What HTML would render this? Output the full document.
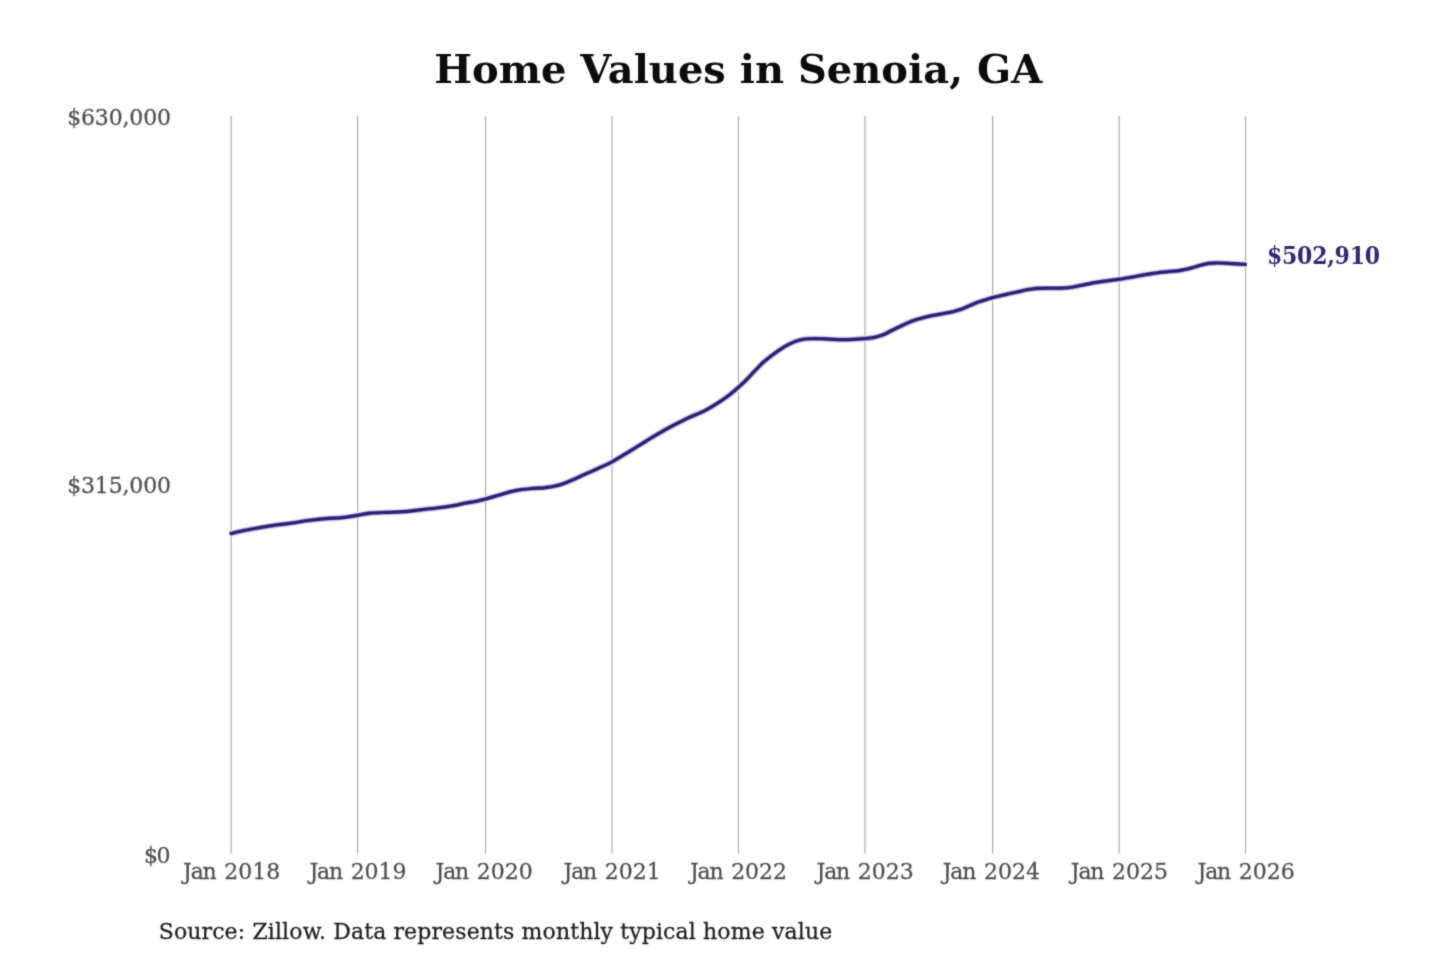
<!DOCTYPE html>
<html lang="en">
<head>
<meta charset="utf-8">
<title>Home Values in Senoia, GA</title>
<style>
  html, body { margin: 0; padding: 0; background: #ffffff; }
  body { width: 1440px; height: 960px; overflow: hidden; font-family: "DejaVu Serif", "Liberation Serif", serif; }
  svg { display: block; position: absolute; left: 0; top: 0; }
  text { font-family: "DejaVu Serif", "Liberation Serif", serif; stroke-width: 0.28px; paint-order: stroke fill; }
  .title { font-size: 40px; font-weight: bold; fill: #0c0c0c; stroke: none; text-anchor: middle; }
  .grid line { stroke: #a8a8a8; stroke-width: 1.15; }
  .ylab text { font-size: 22px; fill: #505050; stroke: #505050; text-anchor: end; }
  .xlab text { font-size: 22px; fill: #505050; stroke: #505050; text-anchor: middle; }
  .halo { fill: none; stroke: #e6e2fc; stroke-width: 6.6; stroke-linecap: butt; stroke-linejoin: round; }
  .shoulder { fill: none; stroke: #a39ed0; stroke-width: 4.5; stroke-linecap: butt; stroke-linejoin: round; }
  .series { fill: none; stroke: #2a2172; stroke-width: 3.2; stroke-linecap: butt; stroke-linejoin: round; }
  .anno { font-size: 22px; font-weight: bold; fill: #2f2a74; stroke: none; }
  .source { font-size: 22px; fill: #1f1f1f; stroke: #1f1f1f; }
</style>
</head>
<body>
<svg width="1440" height="960" viewBox="0 0 1440 960" role="img" aria-label="Home Values in Senoia, GA">
  <rect x="0" y="0" width="1440" height="960" fill="#ffffff"/>
  <defs>
    <filter id="soft" x="0" y="0" width="1440" height="960" filterUnits="userSpaceOnUse" color-interpolation-filters="sRGB">
      <feConvolveMatrix order="3" kernelMatrix="0.0225 0.1050 0.0225 0.1050 0.4900 0.1050 0.0225 0.1050 0.0225" divisor="1" edgeMode="duplicate" preserveAlpha="false"/>
    </filter>
  </defs>
  <g filter="url(#soft)">
  <text class="title" transform="translate(738.2 83.0) scale(1 0.965)" x="0" y="0">Home Values in Senoia, GA</text>
  <g class="grid">
    <line x1="231.2" y1="115.8" x2="231.2" y2="853.8"/>
    <line x1="357.6" y1="115.8" x2="357.6" y2="853.8"/>
    <line x1="485.5" y1="115.8" x2="485.5" y2="853.8"/>
    <line x1="612.0" y1="115.8" x2="612.0" y2="853.8"/>
    <line x1="738.5" y1="115.8" x2="738.5" y2="853.8"/>
    <line x1="865.0" y1="115.8" x2="865.0" y2="853.8"/>
    <line x1="992.6" y1="115.8" x2="992.6" y2="853.8"/>
    <line x1="1119.2" y1="115.8" x2="1119.2" y2="853.8"/>
    <line x1="1245.5" y1="115.8" x2="1245.5" y2="853.8"/>
  </g>
  <g class="ylab">
    <text transform="translate(171.0 124.7) scale(1 1.04)" textLength="103.8" lengthAdjust="spacing">$630,000</text>
    <text transform="translate(171.0 493.1) scale(1 1.04)" textLength="103.8" lengthAdjust="spacing">$315,000</text>
    <text transform="translate(170.5 863.1) scale(1 1.04)" textLength="26.5" lengthAdjust="spacing">$0</text>
  </g>
  <g class="xlab">
    <text transform="translate(230.4 879.3) scale(1 1.04)" dx="1.2 -1.2 -1.2 0 0.5">Jan 2018</text>
    <text transform="translate(356.8 879.3) scale(1 1.04)" dx="1.2 -1.2 -1.2 0 0.5">Jan 2019</text>
    <text transform="translate(482.9 879.3) scale(1 1.04)" dx="1.2 -1.2 -1.2 0 0.5">Jan 2020</text>
    <text transform="translate(610.9 879.3) scale(1 1.04)" dx="1.2 -1.2 -1.2 0 0.5">Jan 2021</text>
    <text transform="translate(737.3 879.3) scale(1 1.04)" dx="1.2 -1.2 -1.2 0 0.5">Jan 2022</text>
    <text transform="translate(863.9 879.3) scale(1 1.04)" dx="1.2 -1.2 -1.2 0 0.5">Jan 2023</text>
    <text transform="translate(990.1 879.3) scale(1 1.04)" dx="1.2 -1.2 -1.2 0 0.5">Jan 2024</text>
    <text transform="translate(1118.2 879.3) scale(1 1.04)" dx="1.2 -1.2 -1.2 0 0.5">Jan 2025</text>
    <text transform="translate(1244.9 879.3) scale(1 1.04)" dx="1.2 -1.2 -1.2 0 0.5">Jan 2026</text>
  </g>
  <path class="halo" d="M229.7,533.9 C231.7,533.4 236.9,532.0 241.7,531.0 C246.5,530.0 252.8,528.9 258.3,527.9 C263.9,526.9 269.4,526.0 275.0,525.2 C280.6,524.4 286.1,523.9 291.7,523.1 C297.2,522.3 302.8,521.2 308.3,520.5 C313.9,519.8 318.9,519.2 325.0,518.7 C331.1,518.2 339.6,517.9 345.0,517.3 C350.4,516.7 353.3,516.0 357.5,515.3 C361.7,514.6 365.1,513.7 370.0,513.2 C374.9,512.7 381.1,512.6 386.7,512.4 C392.2,512.1 397.8,512.1 403.3,511.7 C408.9,511.3 414.4,510.5 420.0,509.9 C425.6,509.3 431.1,508.7 436.7,508.0 C442.2,507.3 448.6,506.4 453.3,505.6 C458.0,504.8 461.4,503.8 465.0,503.1 C468.6,502.4 471.6,502.2 475.0,501.5 C478.4,500.8 481.5,500.0 485.4,499.0 C489.3,498.0 494.1,496.5 498.3,495.3 C502.5,494.1 507.3,492.5 510.8,491.6 C514.3,490.7 515.7,490.4 519.2,489.9 C522.7,489.4 527.5,488.9 531.7,488.5 C535.9,488.1 540.7,488.1 544.2,487.8 C547.7,487.5 549.7,487.0 552.5,486.5 C555.3,486.0 557.3,485.8 560.8,484.6 C564.3,483.5 569.3,481.3 573.3,479.6 C577.3,477.9 581.0,476.1 585.0,474.3 C589.0,472.5 593.0,470.8 597.5,468.7 C602.0,466.6 607.2,464.4 612.1,461.8 C617.0,459.2 621.5,456.3 626.7,453.1 C631.9,449.9 637.8,446.2 643.3,442.8 C648.8,439.4 655.1,435.5 660.0,432.7 C664.9,429.9 667.6,428.3 672.5,425.8 C677.4,423.3 683.8,420.0 689.2,417.5 C694.6,415.0 700.3,413.0 705.0,410.6 C709.7,408.2 713.6,405.7 717.5,403.2 C721.4,400.7 724.8,398.3 728.3,395.7 C731.8,393.1 735.2,390.1 738.3,387.4 C741.4,384.7 743.9,382.3 746.7,379.5 C749.5,376.7 752.2,373.6 755.0,370.7 C757.8,367.8 760.5,364.8 763.3,362.3 C766.1,359.8 768.9,357.6 771.7,355.5 C774.5,353.4 777.2,351.4 780.0,349.6 C782.8,347.7 785.5,346.0 788.3,344.6 C791.1,343.2 793.9,341.8 796.7,340.9 C799.5,340.0 802.2,339.4 805.0,339.0 C807.8,338.6 810.0,338.6 813.3,338.6 C816.6,338.5 821.0,338.8 825.0,338.9 C829.0,339.1 833.3,339.4 837.5,339.6 C841.7,339.7 845.4,339.7 850.0,339.6 C854.6,339.4 860.8,339.0 865.0,338.6 C869.2,338.3 872.0,337.9 875.0,337.2 C878.0,336.5 880.5,335.8 883.3,334.7 C886.1,333.6 888.9,331.9 891.7,330.5 C894.5,329.1 897.2,327.8 900.0,326.5 C902.8,325.2 905.5,323.8 908.3,322.6 C911.1,321.4 913.9,320.4 916.7,319.5 C919.5,318.6 922.2,317.9 925.0,317.2 C927.8,316.5 930.0,316.0 933.3,315.4 C936.6,314.8 941.7,313.9 945.0,313.3 C948.3,312.7 950.5,312.3 953.3,311.6 C956.1,310.8 958.9,310.1 961.7,309.1 C964.5,308.0 967.2,306.6 970.0,305.4 C972.8,304.3 975.5,303.1 978.3,302.1 C981.1,301.1 984.3,300.2 986.7,299.4 C989.1,298.7 989.7,298.4 992.5,297.6 C995.3,296.9 999.4,296.0 1003.3,295.1 C1007.2,294.2 1011.6,293.2 1015.8,292.3 C1020.0,291.4 1024.8,290.1 1028.3,289.5 C1031.8,288.9 1033.9,288.6 1036.7,288.4 C1039.5,288.2 1042.2,288.2 1045.0,288.2 C1047.8,288.2 1050.0,288.2 1053.3,288.2 C1056.6,288.2 1061.7,288.2 1065.0,288.0 C1068.3,287.8 1070.5,287.4 1073.3,287.0 C1076.1,286.6 1078.2,286.0 1081.7,285.3 C1085.2,284.6 1090.0,283.4 1094.2,282.7 C1098.4,282.0 1102.5,281.5 1106.7,280.9 C1110.9,280.3 1115.0,279.8 1119.2,279.2 C1123.4,278.6 1127.5,277.9 1131.7,277.2 C1135.9,276.5 1140.0,275.5 1144.2,274.8 C1148.4,274.1 1152.5,273.4 1156.7,272.9 C1160.9,272.3 1165.5,271.9 1169.2,271.5 C1172.9,271.1 1175.2,271.3 1179.0,270.7 C1182.8,270.1 1188.2,268.8 1191.7,267.9 C1195.2,267.0 1197.2,266.1 1200.0,265.4 C1202.8,264.6 1205.5,263.8 1208.3,263.4 C1211.1,263.0 1213.9,262.9 1216.7,262.9 C1219.5,262.9 1222.2,263.1 1225.0,263.2 C1227.8,263.3 1229.7,263.5 1233.3,263.7 C1236.9,263.9 1244.5,264.4 1246.7,264.5"/>
  <path class="shoulder" d="M229.7,533.9 C231.7,533.4 236.9,532.0 241.7,531.0 C246.5,530.0 252.8,528.9 258.3,527.9 C263.9,526.9 269.4,526.0 275.0,525.2 C280.6,524.4 286.1,523.9 291.7,523.1 C297.2,522.3 302.8,521.2 308.3,520.5 C313.9,519.8 318.9,519.2 325.0,518.7 C331.1,518.2 339.6,517.9 345.0,517.3 C350.4,516.7 353.3,516.0 357.5,515.3 C361.7,514.6 365.1,513.7 370.0,513.2 C374.9,512.7 381.1,512.6 386.7,512.4 C392.2,512.1 397.8,512.1 403.3,511.7 C408.9,511.3 414.4,510.5 420.0,509.9 C425.6,509.3 431.1,508.7 436.7,508.0 C442.2,507.3 448.6,506.4 453.3,505.6 C458.0,504.8 461.4,503.8 465.0,503.1 C468.6,502.4 471.6,502.2 475.0,501.5 C478.4,500.8 481.5,500.0 485.4,499.0 C489.3,498.0 494.1,496.5 498.3,495.3 C502.5,494.1 507.3,492.5 510.8,491.6 C514.3,490.7 515.7,490.4 519.2,489.9 C522.7,489.4 527.5,488.9 531.7,488.5 C535.9,488.1 540.7,488.1 544.2,487.8 C547.7,487.5 549.7,487.0 552.5,486.5 C555.3,486.0 557.3,485.8 560.8,484.6 C564.3,483.5 569.3,481.3 573.3,479.6 C577.3,477.9 581.0,476.1 585.0,474.3 C589.0,472.5 593.0,470.8 597.5,468.7 C602.0,466.6 607.2,464.4 612.1,461.8 C617.0,459.2 621.5,456.3 626.7,453.1 C631.9,449.9 637.8,446.2 643.3,442.8 C648.8,439.4 655.1,435.5 660.0,432.7 C664.9,429.9 667.6,428.3 672.5,425.8 C677.4,423.3 683.8,420.0 689.2,417.5 C694.6,415.0 700.3,413.0 705.0,410.6 C709.7,408.2 713.6,405.7 717.5,403.2 C721.4,400.7 724.8,398.3 728.3,395.7 C731.8,393.1 735.2,390.1 738.3,387.4 C741.4,384.7 743.9,382.3 746.7,379.5 C749.5,376.7 752.2,373.6 755.0,370.7 C757.8,367.8 760.5,364.8 763.3,362.3 C766.1,359.8 768.9,357.6 771.7,355.5 C774.5,353.4 777.2,351.4 780.0,349.6 C782.8,347.7 785.5,346.0 788.3,344.6 C791.1,343.2 793.9,341.8 796.7,340.9 C799.5,340.0 802.2,339.4 805.0,339.0 C807.8,338.6 810.0,338.6 813.3,338.6 C816.6,338.5 821.0,338.8 825.0,338.9 C829.0,339.1 833.3,339.4 837.5,339.6 C841.7,339.7 845.4,339.7 850.0,339.6 C854.6,339.4 860.8,339.0 865.0,338.6 C869.2,338.3 872.0,337.9 875.0,337.2 C878.0,336.5 880.5,335.8 883.3,334.7 C886.1,333.6 888.9,331.9 891.7,330.5 C894.5,329.1 897.2,327.8 900.0,326.5 C902.8,325.2 905.5,323.8 908.3,322.6 C911.1,321.4 913.9,320.4 916.7,319.5 C919.5,318.6 922.2,317.9 925.0,317.2 C927.8,316.5 930.0,316.0 933.3,315.4 C936.6,314.8 941.7,313.9 945.0,313.3 C948.3,312.7 950.5,312.3 953.3,311.6 C956.1,310.8 958.9,310.1 961.7,309.1 C964.5,308.0 967.2,306.6 970.0,305.4 C972.8,304.3 975.5,303.1 978.3,302.1 C981.1,301.1 984.3,300.2 986.7,299.4 C989.1,298.7 989.7,298.4 992.5,297.6 C995.3,296.9 999.4,296.0 1003.3,295.1 C1007.2,294.2 1011.6,293.2 1015.8,292.3 C1020.0,291.4 1024.8,290.1 1028.3,289.5 C1031.8,288.9 1033.9,288.6 1036.7,288.4 C1039.5,288.2 1042.2,288.2 1045.0,288.2 C1047.8,288.2 1050.0,288.2 1053.3,288.2 C1056.6,288.2 1061.7,288.2 1065.0,288.0 C1068.3,287.8 1070.5,287.4 1073.3,287.0 C1076.1,286.6 1078.2,286.0 1081.7,285.3 C1085.2,284.6 1090.0,283.4 1094.2,282.7 C1098.4,282.0 1102.5,281.5 1106.7,280.9 C1110.9,280.3 1115.0,279.8 1119.2,279.2 C1123.4,278.6 1127.5,277.9 1131.7,277.2 C1135.9,276.5 1140.0,275.5 1144.2,274.8 C1148.4,274.1 1152.5,273.4 1156.7,272.9 C1160.9,272.3 1165.5,271.9 1169.2,271.5 C1172.9,271.1 1175.2,271.3 1179.0,270.7 C1182.8,270.1 1188.2,268.8 1191.7,267.9 C1195.2,267.0 1197.2,266.1 1200.0,265.4 C1202.8,264.6 1205.5,263.8 1208.3,263.4 C1211.1,263.0 1213.9,262.9 1216.7,262.9 C1219.5,262.9 1222.2,263.1 1225.0,263.2 C1227.8,263.3 1229.7,263.5 1233.3,263.7 C1236.9,263.9 1244.5,264.4 1246.7,264.5"/>
  <path class="series" d="M229.7,533.9 C231.7,533.4 236.9,532.0 241.7,531.0 C246.5,530.0 252.8,528.9 258.3,527.9 C263.9,526.9 269.4,526.0 275.0,525.2 C280.6,524.4 286.1,523.9 291.7,523.1 C297.2,522.3 302.8,521.2 308.3,520.5 C313.9,519.8 318.9,519.2 325.0,518.7 C331.1,518.2 339.6,517.9 345.0,517.3 C350.4,516.7 353.3,516.0 357.5,515.3 C361.7,514.6 365.1,513.7 370.0,513.2 C374.9,512.7 381.1,512.6 386.7,512.4 C392.2,512.1 397.8,512.1 403.3,511.7 C408.9,511.3 414.4,510.5 420.0,509.9 C425.6,509.3 431.1,508.7 436.7,508.0 C442.2,507.3 448.6,506.4 453.3,505.6 C458.0,504.8 461.4,503.8 465.0,503.1 C468.6,502.4 471.6,502.2 475.0,501.5 C478.4,500.8 481.5,500.0 485.4,499.0 C489.3,498.0 494.1,496.5 498.3,495.3 C502.5,494.1 507.3,492.5 510.8,491.6 C514.3,490.7 515.7,490.4 519.2,489.9 C522.7,489.4 527.5,488.9 531.7,488.5 C535.9,488.1 540.7,488.1 544.2,487.8 C547.7,487.5 549.7,487.0 552.5,486.5 C555.3,486.0 557.3,485.8 560.8,484.6 C564.3,483.5 569.3,481.3 573.3,479.6 C577.3,477.9 581.0,476.1 585.0,474.3 C589.0,472.5 593.0,470.8 597.5,468.7 C602.0,466.6 607.2,464.4 612.1,461.8 C617.0,459.2 621.5,456.3 626.7,453.1 C631.9,449.9 637.8,446.2 643.3,442.8 C648.8,439.4 655.1,435.5 660.0,432.7 C664.9,429.9 667.6,428.3 672.5,425.8 C677.4,423.3 683.8,420.0 689.2,417.5 C694.6,415.0 700.3,413.0 705.0,410.6 C709.7,408.2 713.6,405.7 717.5,403.2 C721.4,400.7 724.8,398.3 728.3,395.7 C731.8,393.1 735.2,390.1 738.3,387.4 C741.4,384.7 743.9,382.3 746.7,379.5 C749.5,376.7 752.2,373.6 755.0,370.7 C757.8,367.8 760.5,364.8 763.3,362.3 C766.1,359.8 768.9,357.6 771.7,355.5 C774.5,353.4 777.2,351.4 780.0,349.6 C782.8,347.7 785.5,346.0 788.3,344.6 C791.1,343.2 793.9,341.8 796.7,340.9 C799.5,340.0 802.2,339.4 805.0,339.0 C807.8,338.6 810.0,338.6 813.3,338.6 C816.6,338.5 821.0,338.8 825.0,338.9 C829.0,339.1 833.3,339.4 837.5,339.6 C841.7,339.7 845.4,339.7 850.0,339.6 C854.6,339.4 860.8,339.0 865.0,338.6 C869.2,338.3 872.0,337.9 875.0,337.2 C878.0,336.5 880.5,335.8 883.3,334.7 C886.1,333.6 888.9,331.9 891.7,330.5 C894.5,329.1 897.2,327.8 900.0,326.5 C902.8,325.2 905.5,323.8 908.3,322.6 C911.1,321.4 913.9,320.4 916.7,319.5 C919.5,318.6 922.2,317.9 925.0,317.2 C927.8,316.5 930.0,316.0 933.3,315.4 C936.6,314.8 941.7,313.9 945.0,313.3 C948.3,312.7 950.5,312.3 953.3,311.6 C956.1,310.8 958.9,310.1 961.7,309.1 C964.5,308.0 967.2,306.6 970.0,305.4 C972.8,304.3 975.5,303.1 978.3,302.1 C981.1,301.1 984.3,300.2 986.7,299.4 C989.1,298.7 989.7,298.4 992.5,297.6 C995.3,296.9 999.4,296.0 1003.3,295.1 C1007.2,294.2 1011.6,293.2 1015.8,292.3 C1020.0,291.4 1024.8,290.1 1028.3,289.5 C1031.8,288.9 1033.9,288.6 1036.7,288.4 C1039.5,288.2 1042.2,288.2 1045.0,288.2 C1047.8,288.2 1050.0,288.2 1053.3,288.2 C1056.6,288.2 1061.7,288.2 1065.0,288.0 C1068.3,287.8 1070.5,287.4 1073.3,287.0 C1076.1,286.6 1078.2,286.0 1081.7,285.3 C1085.2,284.6 1090.0,283.4 1094.2,282.7 C1098.4,282.0 1102.5,281.5 1106.7,280.9 C1110.9,280.3 1115.0,279.8 1119.2,279.2 C1123.4,278.6 1127.5,277.9 1131.7,277.2 C1135.9,276.5 1140.0,275.5 1144.2,274.8 C1148.4,274.1 1152.5,273.4 1156.7,272.9 C1160.9,272.3 1165.5,271.9 1169.2,271.5 C1172.9,271.1 1175.2,271.3 1179.0,270.7 C1182.8,270.1 1188.2,268.8 1191.7,267.9 C1195.2,267.0 1197.2,266.1 1200.0,265.4 C1202.8,264.6 1205.5,263.8 1208.3,263.4 C1211.1,263.0 1213.9,262.9 1216.7,262.9 C1219.5,262.9 1222.2,263.1 1225.0,263.2 C1227.8,263.3 1229.7,263.5 1233.3,263.7 C1236.9,263.9 1244.5,264.4 1246.7,264.5"/>
  <text class="anno" transform="translate(1266.9 263.6) scale(1 1.1)" textLength="113.2" lengthAdjust="spacing">$502,910</text>
  <text class="source" transform="translate(158.7 939.0) scale(1 1.03)" textLength="673.5" lengthAdjust="spacing">Source: Zillow. Data represents monthly typical home value</text>
  </g>
</svg>
</body>
</html>
